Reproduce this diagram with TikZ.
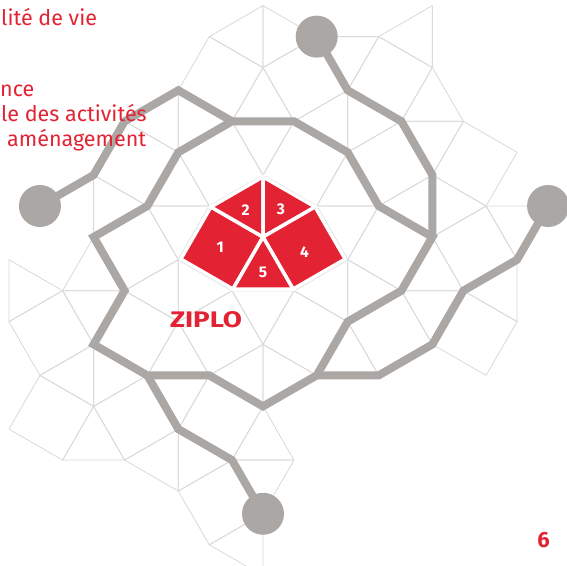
\documentclass[tikz,border=0pt]{standalone}
\usepackage{fontspec}
\setmainfont{Fira Sans}
\usepackage{graphicx}
\definecolor{zred}{RGB}{227,35,52}
\definecolor{zgray}{RGB}{170,167,165}
\definecolor{ztile}{RGB}{218,218,218}
\tikzset{
  tile/.style={draw=ztile, line width=0.8pt, line join=round},
  route/.style={draw=zgray, line width=8pt, line join=miter},
  stop/.style={circle, fill=zgray, minimum size=42pt, inner sep=0pt},
  piece/.style={fill=zred, draw=white, line width=3.5pt, line join=miter},
  num/.style={text=white, font=\fontsize{15.5}{15.5}\selectfont\bfseries, inner sep=0pt},
  intro/.style={text=zred, font=\fontsize{21.5}{21.5}\selectfont, anchor=base west, inner sep=0pt}
}
\newcommand{\Sq}[2]{%
  \pgfmathsetmacro\zcx{-0.68301+1.36603*(#1)}%
  \pgfmathsetmacro\zcy{-0.18301+1.36603*(#2)}%
  \pgfmathsetmacro\zth{mod(abs(#1+#2),2)==0 ? 15 : 75}%
  \draw[tile,shift={(\zcx,\zcy)}] (\zth:0.70711) -- ({\zth+90}:0.70711) -- ({\zth+180}:0.70711) -- ({\zth+270}:0.70711) -- cycle;}
\newcommand{\Tri}[3]{%
  \pgfmathsetmacro\zcx{1.36603*(#1)}%
  \pgfmathsetmacro\zcy{0.5+1.36603*(#2)}%
  \draw[tile,shift={(\zcx,\zcy)}] (#3:0.86603) -- ({#3+90}:0.5) -- ({#3-90}:0.5) -- cycle;}
\begin{document}
\begin{tikzpicture}[x=1pt,y=1pt]
\useasboundingbox (0,0) rectangle (567,565);
\fill[white] (0,0) rectangle (567,565);
\clip (0,0) rectangle (567,565);
\begin{scope}[shift={(263pt,328pt)}, x=62pt, y=62pt]
  % tiling
  \foreach \i/\j in {0/2,1/2,2/2,3/1,2/1,1/1,0/1,-1/1,-1/0,0/0,1/0,2/0,3/0,3/-1,2/-1,1/-1,0/-1,-1/-1,-2/-1,-2/-2,-1/-2,0/-2,0/-3}
    {\Sq{\i}{\j}}
  \foreach \i/\j/\a in {0/2/180,0/2/0,1/2/270,2/2/180,-1/1/180,-1/1/0,0/1/90,0/1/270,1/1/180,1/1/0,2/1/90,2/1/270,-2/0/0,-1/0/90,-1/0/270,0/0/180,0/0/0,1/0/90,1/0/270,2/0/180,2/0/0,3/0/270,-3/-1/0,-2/-1/90,-2/-1/270,-1/-1/180,-1/-1/0,0/-1/90,0/-1/270,1/-1/180,1/-1/0,2/-1/90,2/-1/270,3/-1/180,-2/-2/180,-2/-2/0,-1/-2/90,-1/-2/270,0/-2/180,0/-2/0,1/-2/90,-2/-3/90,-1/-3/180,-1/-3/0,0/-3/90,0/-3/270,0/-4/180}
    {\Tri{\i}{\j}{\a}}
  % routes
  \draw[route] (-0.5,1.866) -- (0.5,1.866) -- (1.366,1.366) -- (1.866,0.5) -- (2.732,0)
     -- (2.232,-0.866) -- (1.366,-1.366) -- (0.866,-2.232) -- (0,-2.732) -- (-0.866,-2.232)
     -- (-1.866,-2.232) -- (-2.732,-1.732) -- (-2.232,-0.866) -- (-2.732,0) -- (-1.866,0.5)
     -- (-1.366,1.366) -- cycle;
  \node[stop] (ctop) at (0.866,3.232) {};
  \node[stop] (cleft) at (-3.598,0.5) {};
  \node[stop] (cbot) at (0,-4.464) {};
  \node[stop] (cright) at (4.598,0.5) {};
  \draw[route] (ctop.center) -- (1.366,2.366) -- (2.232,1.866) -- (2.732,1.0) -- (2.732,0);
  \draw[route] (cleft.center) -- (-2.732,1.0) -- (-2.232,1.866) -- (-1.366,2.366) -- (-0.5,1.866);
  \draw[route] (-1.866,-2.232) -- (-1.366,-3.098) -- (-0.5,-3.598) -- (cbot.center);
  \draw[route] (cright.center) -- (4.098,-0.366) -- (3.232,-0.866) -- (2.732,-1.732) -- (1.866,-2.232) -- (0.866,-2.232);
  % red pieces
  \begin{scope}[scale=0.97]
    \draw[piece] (0,0) -- (-0.866,0.5) -- (-1.366,-0.366) -- (-0.5,-0.866) -- cycle;
    \draw[piece] (0,0) -- (0,1) -- (-0.866,0.5) -- cycle;
    \draw[piece] (0,0) -- (0,1) -- (0.866,0.5) -- cycle;
    \draw[piece] (0,0) -- (0.866,0.5) -- (1.366,-0.366) -- (0.5,-0.866) -- cycle;
    \draw[piece] (0,0) -- (-0.5,-0.866) -- (0.5,-0.866) -- cycle;
  \end{scope}
  \node[num] (n1) at (-0.69,-0.16) {1};
  \node[num] (n2) at (-0.28,0.44) {2};
  \node[num] (n3) at (0.29,0.45) {3};
  \node[num] (n4) at (0.67,-0.24) {4};
  \node[num] (n5) at (0,-0.57) {5};
  \node[text=zred, inner sep=0pt] (ziplo) at (-0.919,-1.339) {\resizebox{72pt}{16pt}{\bfseries ZIPLO}};
\end{scope}
% text
\node[intro] (t1) at (1,539) {lité de vie};
\node[intro] (t2) at (0,468) {nce};
\node[intro] (t3) at (1,443) {le des activités};
\node[intro] (t4) at (7,418) {aménagement};
\node[text=zred, inner sep=0pt, font=\fontsize{22}{22}\selectfont\bfseries] (page) at (543.5,25) {6};
\end{tikzpicture}
\end{document}
